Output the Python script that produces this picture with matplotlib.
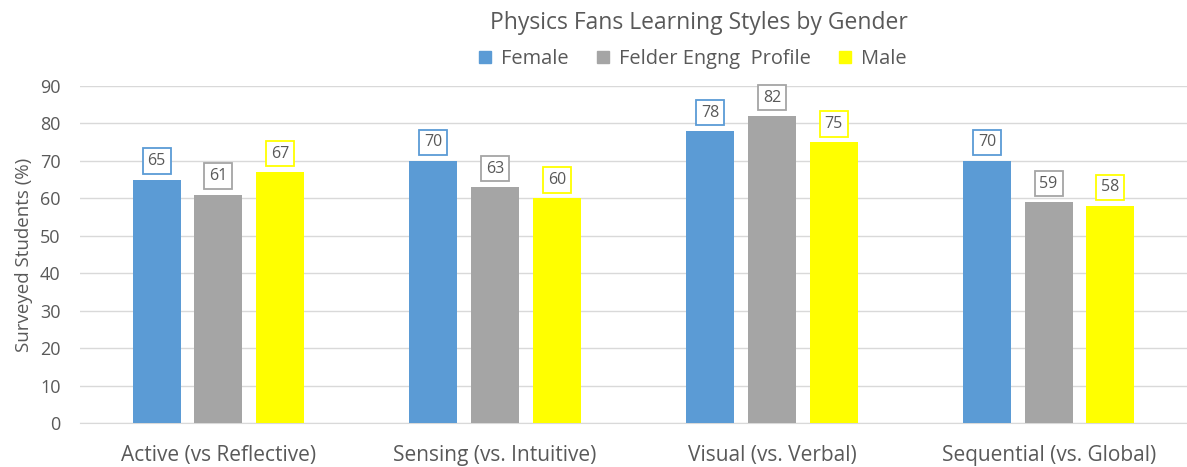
import matplotlib
matplotlib.use("Agg")
import matplotlib.pyplot as plt
import numpy as np
from matplotlib.patches import Patch

categories = ["Active (vs Reflective)", "Sensing (vs. Intuitive)", "Visual (vs. Verbal)", "Sequential (vs. Global)"]
series_names = ["Female", "Felder Engng  Profile", "Male"]
female = [65, 70, 78, 70]
felder = [61, 63, 82, 59]
male = [67, 60, 75, 58]
colors = ["#5B9BD5", "#A5A5A5", "#FFFF00"]
yticks = [0, 10, 20, 30, 40, 50, 60, 70, 80, 90]

plt.rcParams['font.family'] = ['Open Sans', 'DejaVu Sans']
txt = "#595959"

fig = plt.figure(figsize=(11.87, 4.67), dpi=100)
ax = fig.add_axes([80/1187, 1-423/467, (1187-80)/1187, (423-86)/467])

x = np.arange(len(categories))
w = 0.173
off = 0.223
for i, (vals, c) in enumerate(zip([female, felder, male], colors)):
    pos = x + (i-1)*off
    ax.bar(pos, vals, width=w, color=c, zorder=3)
    for p, v in zip(pos, vals):
        ax.annotate(str(v), (p, v), xytext=(0, 7.5), textcoords="offset points",
                    ha="center", va="bottom", fontsize=11.5, color=txt, zorder=4,
                    bbox=dict(boxstyle="square,pad=0.3", fc="white", ec=c, lw=1.3))

ax.set_xlim(-0.5, 3.5)
ax.set_ylim(0, 90)
ax.set_yticks(yticks)
ax.set_xticks(x)
ax.set_xticklabels(categories, fontsize=15)
ax.tick_params(axis='both', length=0, colors=txt)
ax.tick_params(axis='y', labelsize=13, pad=14)
ax.tick_params(axis='x', pad=16)
ax.grid(axis='y', color="#D9D9D9", lw=1, zorder=0)
for s in ["top", "right", "left"]:
    ax.spines[s].set_visible(False)
ax.spines["bottom"].set_color("#D9D9D9")
ax.set_ylabel("Surveyed Students (%)", fontsize=13.5, color=txt, labelpad=5)

fig.text(699/1187, 1-23/467, "Physics Fans Learning Styles by Gender", ha="center", va="center",
         fontsize=16.5, color=txt)
handles = [Patch(color=c) for c in colors]
fig.legend(handles, series_names, loc="center", bbox_to_anchor=(693/1187, 1-59/467), ncol=3,
           frameon=False, fontsize=14.4, labelcolor=txt, handlelength=0.6, handleheight=0.6,
           handletextpad=0.5, columnspacing=1.4)

fig.savefig("out.png", dpi=100)
